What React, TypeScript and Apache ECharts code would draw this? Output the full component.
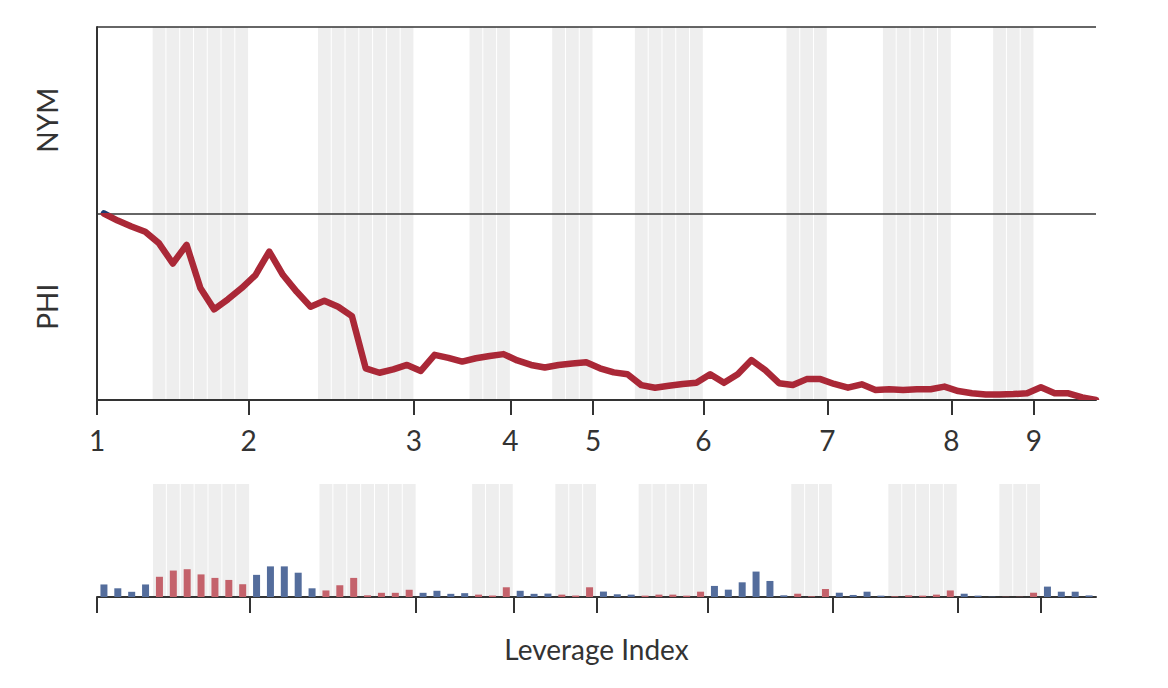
import React, { useEffect, useRef } from 'react';
import * as echarts from 'echarts';

// Innings and plate appearances per half inning
const INNINGS = ['1', '2', '3', '4', '5', '6', '7', '8', '9'];
const TOP_HALF_PA = [4, 5, 4, 3, 3, 6, 4, 3, 4];
const BOTTOM_HALF_PA = [7, 7, 3, 3, 5, 3, 5, 3, 0];

// NYM win probability (%) before the first PA and after each PA
const NYM_WIN_PCT = [
  50, 48.1, 46.5, 45.1, 42.0, 36.6, 41.6, 30.0, 24.3, 27.0,
  30.0, 33.5, 39.8, 33.5, 29.0, 25.0, 26.6, 25.0, 22.5, 8.5,
  7.3, 8.2, 9.4, 7.8, 12.1, 11.3, 10.3, 11.2, 11.8, 12.3,
  10.6, 9.4, 8.7, 9.4, 9.8, 10.1, 8.5, 7.4, 6.9, 4.0,
  3.3, 3.8, 4.3, 4.6, 6.9, 4.6, 6.9, 10.7, 8.0, 4.5,
  4.0, 5.6, 5.6, 4.3, 3.3, 4.2, 2.7, 2.9, 2.7, 2.9,
  2.9, 3.6, 2.4, 1.8, 1.5, 1.5, 1.6, 1.8, 3.4, 1.8,
  1.8, 0.7, 0,
];

// Leverage index of each plate appearance
const LEVERAGE = [
  1.11, 0.77, 0.46, 1.11, 1.79, 2.34, 2.46, 2.0, 1.69, 1.51,
  1.13, 1.96, 2.71, 2.71, 2.15, 0.77, 0.58, 1.04, 1.69, 0.15,
  0.37, 0.37, 0.64, 0.37, 0.55, 0.28, 0.34, 0.21, 0.13, 0.86,
  0.55, 0.28, 0.30, 0.21, 0.13, 0.86, 0.48, 0.24, 0.21, 0.12,
  0.21, 0.21, 0.12, 0.47, 0.98, 0.65, 1.30, 2.25, 1.42, 0.15,
  0.29, 0.06, 0.71, 0.38, 0.18, 0.47, 0.12, 0.06, 0.15, 0.12,
  0.21, 0.58, 0.29, 0.12, 0.03, 0.02, 0.02, 0.38, 0.92, 0.47,
  0.47, 0.14,
];

const TEAM_LABELS = ['PHI', 'NYM'];
const X_TITLE = 'Leverage Index';

const INK = '#333333';
const LINE_BLUE = '#1d3a70';
const LINE_RED = '#aa2837';
const BAR_BLUE = '#546d9c';
const BAR_RED = '#c4626b';
const BAND = '#eeeeee';
const FONT = 'Lato, "Open Sans", sans-serif';

const inningStarts: number[] = [];
const phiRanges: number[][] = [];
let pos = 0;
for (let i = 0; i < INNINGS.length; i++) {
  inningStarts.push(pos);
  pos += TOP_HALF_PA[i];
  if (BOTTOM_HALF_PA[i] > 0) phiRanges.push([pos, pos + BOTTOM_HALF_PA[i]]);
  pos += BOTTOM_HALF_PA[i];
}
const TOTAL = pos;
const isPhi = (k: number) => phiRanges.some(([a, b]) => k >= a && k < b);
const phiCells: number[][] = [];
for (let k = 0; k < TOTAL; k++) if (isPhi(k)) phiCells.push([k, 0]);

const bandRenderer = (yMin: number, yMax: number) => (params: any, api: any) => {
  const k = api.value(0);
  const p0 = api.coord([k, yMax]);
  const p1 = api.coord([k + 1, yMin]);
  return {
    type: 'rect',
    shape: { x: p0[0] + 0.5, y: p0[1], width: p1[0] - p0[0] - 1, height: p1[1] - p0[1] },
    style: { fill: BAND },
  };
};

export default function App() {
  const ref = useRef<HTMLDivElement>(null);
  useEffect(() => {
    if (!ref.current) return;
    const chart = echarts.init(ref.current, undefined, { renderer: 'svg' });
    chart.setOption({
      animation: false,
      textStyle: { fontFamily: FONT },
      grid: [
        { left: 97, right: 72, top: 27, bottom: 288 },
        { left: 97, right: 72, top: 484, bottom: 91 },
      ],
      visualMap: {
        show: false,
        type: 'piecewise',
        seriesIndex: 1,
        dimension: 1,
        pieces: [
          { gte: 50, lte: 100, color: LINE_BLUE },
          { gte: 0, lt: 50, color: LINE_RED },
        ],
      },
      xAxis: [
        {
          gridIndex: 0,
          type: 'value',
          min: 0,
          max: TOTAL + 0.5,
          z: 4,
          axisLine: { show: true, lineStyle: { color: INK, width: 2 } },
          axisTick: { show: true, customValues: inningStarts, length: 15, lineStyle: { color: INK, width: 2 } },
          axisLabel: {
            customValues: inningStarts,
            formatter: (v: number) => INNINGS[inningStarts.indexOf(v)] ?? '',
            fontSize: 28,
            color: INK,
            fontFamily: FONT,
            margin: 26,
          },
          splitLine: { show: false },
        },
        {
          gridIndex: 1,
          type: 'value',
          min: 0,
          max: TOTAL,
          z: 4,
          axisLine: { show: true, lineStyle: { color: INK, width: 2 } },
          axisTick: { show: true, customValues: inningStarts, length: 16, lineStyle: { color: INK, width: 2 } },
          axisLabel: { show: false },
          splitLine: { show: false },
          name: X_TITLE,
          nameLocation: 'middle',
          nameGap: 38,
          nameTextStyle: { fontSize: 28, color: INK, fontFamily: FONT },
        },
      ],
      yAxis: [
        {
          gridIndex: 0,
          type: 'value',
          min: 0,
          max: 100,
          interval: 50,
          z: 4,
          axisLine: { show: true, lineStyle: { color: INK, width: 2 } },
          axisTick: { show: false },
          splitLine: { show: true, lineStyle: { color: INK, width: 1.5 } },
          axisLabel: {
            customValues: [25, 75],
            formatter: (v: number) => (v > 50 ? TEAM_LABELS[1] : TEAM_LABELS[0]),
            rotate: 90,
            fontSize: 28,
            color: INK,
            fontFamily: FONT,
            margin: 36,
          },
        },
        { gridIndex: 1, type: 'value', min: 0, max: 10, show: false },
      ],
      series: [
        {
          type: 'custom',
          xAxisIndex: 0,
          yAxisIndex: 0,
          z: 1,
          silent: true,
          renderItem: bandRenderer(0, 100),
          encode: { x: 0, y: 1 },
          data: phiCells,
        },
        {
          type: 'line',
          xAxisIndex: 0,
          yAxisIndex: 0,
          z: 6,
          showSymbol: false,
          silent: true,
          lineStyle: { width: 6.5, cap: 'round', join: 'round' },
          data: NYM_WIN_PCT.map((v, i) => [i + 0.5, v]),
        },
        {
          type: 'custom',
          xAxisIndex: 1,
          yAxisIndex: 1,
          z: 1,
          silent: true,
          renderItem: bandRenderer(0, 10),
          encode: { x: 0, y: 1 },
          data: phiCells,
        },
        {
          type: 'bar',
          xAxisIndex: 1,
          yAxisIndex: 1,
          z: 5,
          barWidth: 7,
          silent: true,
          data: LEVERAGE.map((v, i) => ({
            value: [i + 0.5, v],
            itemStyle: { color: isPhi(i) ? BAR_RED : BAR_BLUE },
          })),
        },
      ],
    });
    return () => chart.dispose();
  }, []);
  return (
    <div
      ref={ref}
      style={{ position: 'fixed', left: 0, top: 0, width: 1168, height: 688, background: '#fff' }}
    />
  );
}
